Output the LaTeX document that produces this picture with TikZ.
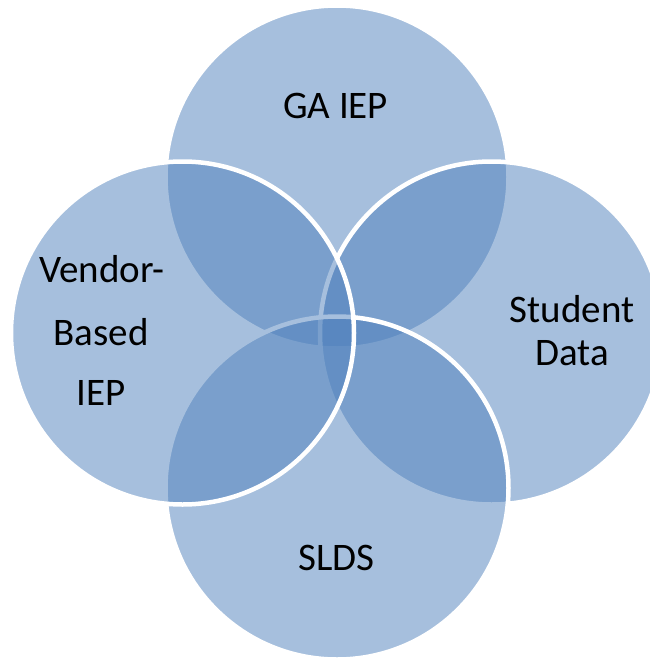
\documentclass[tikz,border=0pt]{standalone}
\usepackage{fontspec}
\setmainfont{Carlito}
\definecolor{vennblue}{HTML}{4F81BD}
\begin{document}
\begin{tikzpicture}[x=1pt,y=-1pt,
  venn/.style={circle, minimum size=343pt, inner sep=0pt, fill=vennblue, fill opacity=0.5, draw=white, line width=4.5pt},
  lbl/.style={font=\fontsize{39}{47}\selectfont, text=black, anchor=base, inner sep=0pt}]
\fill[white] (0,0) rectangle (650,659);
\useasboundingbox (0,0) rectangle (650,659);
\clip (0,0) rectangle (650,659);
\node[venn] (top) at (337,177) {};
\node[venn] (right) at (491.5,333) {};
\node[venn] (bottom) at (337,488) {};
\node[venn] (left) at (182.5,333) {};
\node[lbl] (gaiep) at (335.5,118) {GA IEP};
\node[lbl] (student) at (572,322) {Student};
\node[lbl] (data) at (572,365) {Data};
\node[lbl] (slds) at (336.5,570) {SLDS};
\node[lbl] (vendor) at (102,282) {Vendor-};
\node[lbl] (based) at (101,345) {Based};
\node[lbl] (iep) at (101.5,405) {IEP};
\end{tikzpicture}
\end{document}
